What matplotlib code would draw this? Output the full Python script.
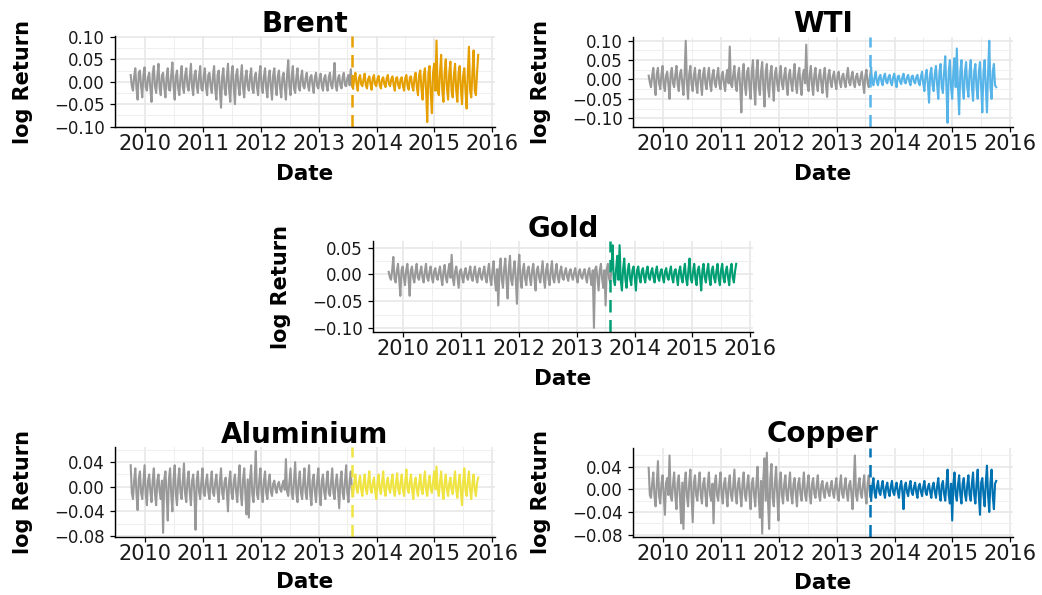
import numpy as np
import pandas as pd
import matplotlib
matplotlib.use("Agg")
import matplotlib.pyplot as plt
import matplotlib.dates as mdates
from matplotlib.ticker import FixedLocator, FuncFormatter, AutoMinorLocator

plt.rcParams['font.family'] = ['DejaVu Sans']

# ---------------- data (log returns) -------------
start_date = "2009-10-01"
end_date = "2015-10-05"
split_date = "2013-08-01"

brent = [
    0.015, -0.01, -0.02, 0.012, 0.03, -0.015, -0.04, 0.02, 0.025, -0.01, -0.035, 0.015, 0.032, -0.012,
    -0.02, 0.01, 0.02, -0.015, -0.045, 0.018, 0.035, -0.01, -0.025, 0.012, 0.04, -0.015, -0.03, 0.015,
    0.02, -0.012, -0.035, 0.01, 0.03, -0.018, -0.02, 0.015, 0.043, -0.01, -0.04, 0.012, 0.025, -0.015,
    -0.03, 0.01, 0.035, -0.012, -0.025, 0.015, 0.03, -0.01,
    -0.02, 0.01, 0.04, -0.012, -0.03, 0.015, 0.025, -0.01, -0.025, 0.012, 0.035, -0.015, -0.02, 0.01,
    0.03, -0.012, -0.03, 0.015, 0.02, -0.01, -0.025, 0.012, 0.035, -0.018, -0.04, 0.015, 0.025, -0.02,
    -0.058, 0.012, 0.03, -0.015, -0.03, 0.01, 0.04, -0.018, -0.045, 0.015, 0.035, -0.012, -0.05, 0.015,
    0.028, -0.01, -0.03, 0.012, 0.037, -0.015, -0.035, 0.01,
    0.025, -0.01, -0.02, 0.012, 0.03, -0.015, -0.025, 0.01, 0.02, -0.012, -0.03, 0.015, 0.035, -0.01,
    -0.025, 0.012, 0.03, -0.015, -0.035, 0.01, 0.025, -0.012, -0.04, 0.015, 0.03, -0.01, -0.03, 0.012,
    0.025, -0.015, -0.035, 0.01, 0.02, -0.012, -0.04, 0.015, 0.048, -0.01, -0.03, 0.012, 0.035, -0.015,
    -0.025, 0.01, 0.03, -0.012, -0.02, 0.01, 0.025, -0.01,
    -0.015, 0.008, 0.02, -0.008, -0.02, 0.01, 0.015, -0.008, -0.025, 0.01, 0.02, -0.01, -0.015, 0.008,
    0.018, -0.01, -0.02, 0.008, 0.015, -0.008, -0.02, 0.01, 0.02, -0.008, -0.015, 0.01, 0.042, -0.01,
    -0.02, 0.008, 0.015, -0.008, -0.015, 0.01, 0.02, -0.008, -0.01, 0.008, 0.015, -0.008,
    0.028, -0.008, -0.015, 0.008, 0.02, -0.006, -0.02, 0.008, 0.015, -0.006, -0.01, 0.006, 0.018, -0.008,
    -0.015, 0.006, 0.012, -0.006, -0.018, 0.008, 0.015, -0.006, -0.01, 0.006, 0.013, -0.008, -0.015, 0.006,
    0.01, -0.006, -0.012, 0.008, 0.015, -0.006, -0.01, 0.006, 0.012, -0.008, -0.02, 0.008, 0.01, -0.008,
    -0.015, 0.006, 0.01, -0.01, -0.02, 0.008, 0.015, -0.01, -0.018, 0.01, 0.012, -0.01, -0.02, 0.01,
    0.02, -0.012, -0.03, 0.015, 0.025, -0.015, -0.04, 0.015, 0.03, -0.02,
    -0.09, 0.02, 0.035, -0.025, -0.07, 0.02, 0.04, -0.02, 0.092, -0.02,
    -0.03, 0.02, 0.06, -0.02, -0.045, 0.02, 0.05, -0.015, -0.04, 0.02, 0.045, -0.02, -0.035, 0.015,
    0.04, -0.02, -0.045, 0.02, 0.035, -0.015, -0.05, 0.015, 0.03, -0.02, -0.06, 0.02, 0.078, -0.02,
    -0.035, 0.02, 0.07, -0.02, -0.03, 0.02, 0.06,
]

wti = [
    0.01, -0.008, -0.02, 0.01, 0.03, -0.012, -0.04, 0.015, 0.03, -0.01, -0.025, 0.012, 0.035, -0.015,
    -0.03, 0.01, 0.02, -0.012, -0.05, 0.015, 0.03, -0.01, -0.02, 0.012, 0.035, -0.012, -0.03, 0.015,
    0.025, -0.01, -0.04, 0.012, 0.10, -0.01, -0.05, 0.015, 0.035, -0.012, -0.03, 0.01, 0.03, -0.015,
    -0.035, 0.012, 0.025, -0.01, -0.04, 0.015, 0.03, -0.012,
    -0.025, 0.01, 0.03, -0.012, -0.03, 0.012, 0.025, -0.01, -0.02, 0.01, 0.03, -0.012, -0.025, 0.01,
    0.02, -0.012, -0.03, 0.01, 0.025, -0.01, 0.085, -0.012, -0.02, 0.012, 0.035, -0.015, -0.03, 0.012,
    0.03, -0.02, -0.085, 0.015, 0.04, -0.015, -0.04, 0.02, 0.03, -0.02, -0.05, 0.02, 0.05, -0.02,
    -0.065, 0.02, 0.05, -0.02, -0.04, 0.02, 0.045, -0.02,
    -0.07, 0.02, 0.04, -0.02, -0.045, 0.015, 0.035, -0.015, -0.055, 0.015, 0.03, -0.012, -0.03, 0.012,
    0.035, -0.012, -0.025, 0.01, 0.03, -0.015, -0.04, 0.012, 0.025, -0.01, -0.03, 0.012, 0.04, -0.015,
    -0.035, 0.012, 0.03, -0.015, -0.04, 0.012, 0.025, -0.01, 0.09, -0.012, -0.03, 0.012, 0.035, -0.015,
    -0.04, 0.012, 0.03, -0.012, -0.03, 0.01, 0.025, -0.01,
    -0.035, 0.01, 0.03, -0.012, -0.045, 0.01, 0.025, -0.008, -0.02, 0.008, 0.02, -0.008, -0.025, 0.01,
    0.02, -0.008, -0.02, 0.008, 0.015, -0.008, -0.02, 0.01, 0.03, -0.008, -0.015, 0.008, 0.02, -0.01,
    -0.02, 0.008, 0.015, -0.008, -0.015, 0.008, 0.02, -0.01, -0.035, 0.01, 0.025, -0.01,
    -0.02, 0.008, 0.03, -0.008, -0.015, 0.006, 0.02, -0.008, -0.015, 0.006, 0.012, -0.006, -0.015, 0.008,
    0.015, -0.006, -0.01, 0.006, 0.012, -0.008, -0.015, 0.006, 0.015, -0.006, -0.02, 0.008, 0.01, -0.006,
    -0.012, 0.006, 0.015, -0.008, -0.01, 0.006, 0.012, -0.006, -0.015, 0.008, 0.01, -0.006, -0.01, 0.006,
    0.012, -0.008, -0.015, 0.008, 0.02, -0.01,
    -0.03, 0.01, 0.025, -0.012, -0.06, 0.015, 0.03, -0.015, -0.03, 0.015, 0.035, -0.015, -0.05, 0.02,
    0.04, -0.02, -0.035, 0.02, 0.06, -0.02, -0.112, 0.02, 0.05, -0.02, -0.05, 0.02, 0.055, -0.02,
    0.08, -0.02, -0.09, 0.02, 0.05, -0.02, -0.05, 0.02, 0.045, -0.02, -0.045, 0.02, 0.05, -0.02,
    -0.055, 0.02, 0.04, -0.02, -0.05, 0.02, 0.045, -0.02, -0.085, 0.02, 0.05, -0.02, -0.085, 0.02,
    0.10, -0.02, -0.05, 0.02, 0.04, -0.015, -0.02,
]

gold = [
    0.005, -0.005, -0.01, 0.008, 0.033, -0.008, -0.015, 0.006, 0.02, -0.008, -0.04, 0.008, 0.015, -0.006,
    -0.02, 0.008, 0.02, -0.006, -0.04, 0.008, 0.015, -0.006, -0.015, 0.006, 0.02, -0.006, -0.01, 0.005,
    0.015, -0.006, -0.015, 0.006, 0.02, -0.006, -0.012, 0.005, 0.015, -0.006, -0.015, 0.006, 0.012, -0.005,
    -0.01, 0.005, 0.015, -0.006, -0.02, 0.006, 0.018, -0.006,
    -0.015, 0.006, 0.02, -0.006, 0.037, -0.008, -0.02, 0.006, 0.015, -0.006, -0.025, 0.006, 0.01, -0.005,
    -0.015, 0.005, 0.012, -0.005, -0.01, 0.005, 0.015, -0.006, -0.012, 0.005, 0.015, -0.006, -0.015, 0.005,
    0.012, -0.005, -0.01, 0.005, 0.015, -0.006, -0.015, 0.006, 0.02, -0.008, -0.02, 0.008, 0.025, -0.01,
    -0.03, 0.01, -0.058, 0.01, 0.03, -0.01, -0.025, 0.01,
    0.03, -0.01, -0.045, 0.01, 0.035, -0.01, -0.02, 0.008, 0.025, -0.01, -0.055, 0.01, 0.037, -0.01,
    -0.025, 0.008, 0.02, -0.008, -0.02, 0.008, 0.015, -0.006, -0.02, 0.008, 0.02, -0.008, -0.03, 0.008,
    0.015, -0.006, -0.015, 0.006, 0.025, -0.008, -0.025, 0.008, 0.02, -0.008, -0.02, 0.008, 0.025, -0.008,
    -0.015, 0.006, 0.02, -0.006, -0.015, 0.006, 0.015, -0.006,
    -0.01, 0.005, 0.012, -0.005, -0.012, 0.005, 0.01, -0.004, -0.01, 0.004, 0.012, -0.005, -0.015, 0.005,
    0.01, -0.004, -0.008, 0.004, 0.01, -0.005, -0.015, 0.005, 0.012, -0.006, -0.02, 0.008, -0.10, 0.01,
    0.015, -0.008, -0.03, 0.008, 0.02, -0.008, -0.025, 0.008, -0.058, 0.01, 0.02, -0.008,
    -0.015, 0.01, 0.055, -0.01, -0.02, 0.01, 0.035, -0.01, 0.055, -0.012, -0.03, 0.01, 0.03, -0.01,
    -0.025, 0.008, 0.02, -0.008, -0.02, 0.008, 0.015, -0.006, -0.03, 0.008, 0.015, -0.006, -0.015, 0.006,
    0.012, -0.005, -0.015, 0.006, 0.015, -0.006, -0.01, 0.005, 0.012, -0.005, -0.015, 0.006, 0.015, -0.006,
    -0.012, 0.005, 0.01, -0.005, -0.015, 0.006, 0.012, -0.005, -0.01, 0.005, 0.015, -0.006, -0.015, 0.006,
    0.01, -0.005, -0.02, 0.006, 0.015, -0.006, -0.015, 0.006, 0.02, -0.008, -0.02, 0.008, 0.03, -0.008,
    -0.015, 0.006, 0.02, -0.008, -0.02, 0.008, 0.015, -0.006, -0.03, 0.008, 0.02, -0.006, -0.015, 0.006,
    0.02, -0.008, -0.02, 0.008, 0.015, -0.006, -0.015, 0.006, 0.02, -0.008, -0.02, 0.008, 0.02, -0.006,
    -0.015, 0.006, 0.015, -0.006, -0.02, 0.008, 0.02, -0.006, -0.015, 0.006, 0.02,
]

aluminium = [
    0.035, -0.01, -0.02, 0.01, 0.03, -0.012, -0.038, 0.012, 0.025, -0.01, -0.02, 0.008, 0.035, -0.012,
    -0.03, 0.01, 0.02, -0.008, -0.025, 0.01, 0.03, -0.012, -0.03, 0.01, 0.02, -0.008, -0.02, 0.01,
    -0.075, 0.012, 0.025, -0.012, -0.055, 0.012, 0.03, -0.012, -0.04, 0.012, 0.035, -0.012, -0.03, 0.01,
    0.03, -0.01, -0.02, 0.01, 0.038, -0.012, -0.025, 0.01,
    0.025, -0.01, -0.03, 0.01, 0.02, -0.01, -0.07, 0.01, 0.025, -0.008, -0.02, 0.008, 0.03, -0.01,
    -0.015, 0.008, 0.02, -0.008, -0.02, 0.008, 0.025, -0.01, -0.015, 0.008, 0.02, -0.008, -0.025, 0.01,
    0.03, -0.01, -0.02, 0.008, 0.015, -0.008, -0.04, 0.01, 0.025, -0.01, -0.02, 0.008, 0.02, -0.008,
    -0.025, 0.01, 0.035, -0.012, -0.03, 0.012, 0.03, -0.012,
    -0.045, 0.012, -0.05, 0.012, 0.035, -0.012, -0.025, 0.01, 0.058, -0.012, -0.02, 0.01, 0.03, -0.01,
    -0.025, 0.01, 0.025, -0.01, -0.02, 0.008, 0.02, -0.008, -0.015, 0.005, 0.01, -0.004, -0.01, 0.004,
    0.008, -0.004, -0.008, 0.004, 0.01, -0.005, 0.045, -0.008, -0.015, 0.008, 0.03, -0.01, -0.02, 0.01,
    0.04, -0.01, -0.025, 0.01, 0.025, -0.01, -0.02, 0.008,
    0.03, -0.01, -0.02, 0.01, 0.035, -0.012, -0.03, 0.01, 0.02, -0.008, -0.025, 0.01, 0.03, -0.01,
    -0.03, 0.01, 0.02, -0.008, -0.02, 0.008, 0.025, -0.01, -0.015, 0.008, 0.03, -0.01, -0.02, 0.008,
    0.02, -0.008, -0.035, 0.01, 0.025, -0.01, -0.02, 0.01, 0.035, -0.01, -0.025, 0.01,
    0.025, -0.005, -0.015, 0.008, 0.02, -0.004, -0.01, 0.008, 0.018, -0.005, -0.015, 0.006, 0.02, -0.004,
    -0.012, 0.008, 0.025, -0.004, -0.01, 0.006, 0.015, -0.006, -0.02, 0.006, 0.02, -0.004, -0.012, 0.008,
    0.025, -0.005, -0.015, 0.006, 0.015, -0.004, -0.01, 0.008, 0.02, -0.005, -0.015, 0.006, 0.022, -0.004,
    -0.012, 0.008, 0.02, -0.005, -0.015, 0.008, 0.028, -0.004, -0.01, 0.008, 0.02, -0.006, -0.02, 0.006,
    0.015, -0.005, -0.015, 0.006, 0.02, -0.004, -0.012, 0.008, 0.025, -0.005, -0.015, 0.006, 0.018, -0.004,
    -0.01, 0.008, 0.025, -0.004, 0.033, -0.005, -0.015, 0.008, 0.025, -0.005, -0.02, 0.006, 0.02, -0.005,
    -0.015, 0.006, 0.015, -0.004, -0.012, 0.008, 0.025, -0.005, -0.018, 0.006, 0.02, -0.008, -0.03, 0.008,
    0.03, -0.006, -0.015, 0.008, 0.025, -0.005, -0.02, 0.006, 0.02, -0.005, -0.015, 0.006, 0.015,
]

copper = [
    0.038, -0.01, -0.015, 0.01, 0.03, -0.012, -0.03, 0.012, 0.05, -0.012, -0.025, 0.01, 0.025, -0.01,
    -0.045, 0.012, 0.02, -0.01, 0.06, -0.012, -0.02, 0.01, 0.03, -0.012, -0.035, 0.012, 0.025, -0.012,
    -0.06, 0.012, -0.07, 0.012, 0.03, -0.012, -0.03, 0.012, 0.035, -0.012, -0.058, 0.012, 0.025, -0.01,
    -0.02, 0.01, 0.03, -0.01, -0.025, 0.01, 0.02, -0.01,
    -0.03, 0.01, 0.03, -0.01, -0.02, 0.01, -0.06, 0.01, 0.025, -0.01, -0.02, 0.008, 0.03, -0.01,
    -0.025, 0.01, 0.02, -0.008, -0.03, 0.01, 0.025, -0.01, -0.02, 0.008, 0.035, -0.01, -0.025, 0.01,
    0.02, -0.008, -0.03, 0.01, 0.03, -0.01, -0.02, 0.008, 0.025, -0.01, -0.035, 0.01, 0.02, -0.01,
    -0.03, 0.012, 0.04, -0.015, -0.05, 0.015, -0.078, 0.02, 0.055, -0.02,
    0.065, -0.02, -0.07, 0.02, 0.045, -0.015, -0.03, 0.012, 0.04, -0.012, -0.055, 0.012, 0.03, -0.01,
    -0.025, 0.01, 0.025, -0.01, -0.02, 0.008, 0.03, -0.01, -0.025, 0.01, 0.02, -0.008, -0.03, 0.01,
    0.02, -0.008, -0.02, 0.008, 0.03, -0.01, -0.02, 0.008, 0.025, -0.01, -0.025, 0.01, 0.02, -0.008,
    -0.015, 0.008, 0.025, -0.01, -0.02, 0.008,
    0.015, -0.006, -0.015, 0.006, 0.012, -0.005, -0.012, 0.005, 0.015, -0.006, -0.015, 0.006, 0.02, -0.008,
    -0.02, 0.008, 0.025, -0.008, -0.015, 0.006, 0.02, -0.008, -0.02, 0.008, 0.015, -0.008, -0.035, 0.01,
    0.06, -0.01, -0.02, 0.008, 0.02, -0.008, -0.015, 0.008, 0.025, -0.01, -0.025, 0.01,
    0.025, -0.006, -0.02, 0.006, 0.02, -0.006, -0.015, 0.005, 0.015, -0.005, -0.01, 0.005, 0.015, -0.005,
    -0.015, 0.005, 0.012, -0.005, -0.012, 0.005, 0.015, -0.005, -0.01, 0.004, 0.012, -0.005, -0.015, 0.005,
    0.015, -0.005, -0.035, 0.006, 0.012, -0.005, -0.012, 0.005, 0.015, -0.005, -0.01, 0.004, 0.012, -0.005,
    -0.015, 0.005, 0.01, -0.004, -0.012, 0.005, 0.015, -0.005, -0.01, 0.004, 0.01, -0.005, -0.015, 0.005,
    0.012, -0.005, -0.015, 0.006, 0.02, -0.008, -0.02, 0.008, 0.015, -0.008, -0.02, 0.008, 0.035, -0.01,
    -0.025, 0.01, -0.055, 0.01, 0.03, -0.01, -0.02, 0.008, 0.025, -0.01, -0.025, 0.01, 0.02, -0.008,
    -0.02, 0.008, 0.025, -0.01, -0.02, 0.01, 0.03, -0.01, -0.025, 0.01, 0.035, -0.012, -0.045, 0.012,
    0.02, -0.01, -0.03, 0.012, 0.042, -0.012, -0.04, 0.012, 0.035, -0.012, -0.035, 0.01, 0.015,
]

titles = ["Brent", "WTI", "Gold", "Aluminium", "Copper"]
series = [brent, wti, gold, aluminium, copper]
colors = ["#E69F00", "#56B4E9", "#009E73", "#F0E442", "#0072B2"]
ylims = [(-0.101, 0.102), (-0.1226, 0.1096), (-0.1078, 0.0628), (-0.0817, 0.0647), (-0.0842, 0.0732)]
yticks = [[-0.10, -0.05, 0.0, 0.05, 0.10], [-0.10, -0.05, 0.0, 0.05, 0.10],
          [-0.10, -0.05, 0.0, 0.05], [-0.08, -0.04, 0.0, 0.04], [-0.08, -0.04, 0.0, 0.04]]
gray = "#999999"

# ---------------- layout (pixel boxes: left, top, right, bottom) ----------------
W, H = 1042, 595
boxes = [(115, 36, 495, 127), (633, 37, 1013, 127), (373, 241, 753, 332),
         (115, 447, 495, 537), (633, 448, 1013, 537)]
title_base = [32, 32, 237, 443, 442]
date_base = [180, 180, 385, 588, 589]

fig = plt.figure(figsize=(W / 100, H / 100), dpi=100)
xlo = pd.Timestamp("2009-06-24")
xhi = pd.Timestamp("2016-01-19")
cut = pd.Timestamp(split_date)


def fmt(v, pos):
    s = f"{v:.2f}"
    if s in ("-0.00",):
        s = "0.00"
    return s.replace("-", "\u2212")


for name, vals, col, yl, yt, box, tb, db in zip(titles, series, colors, ylims, yticks,
                                               boxes, title_base, date_base):
    l, t, r, b = box
    ax = fig.add_axes([l / W, 1 - b / H, (r - l) / W, (b - t) / H])
    dates = pd.date_range(start_date, end_date, periods=len(vals))
    v = np.array(vals)
    k = int(np.searchsorted(dates.values, cut.to_datetime64()))
    ax.plot(dates[:k + 1], v[:k + 1], color=gray, lw=1.5)
    ax.plot(dates[k:], v[k:], color=col, lw=1.5)
    ax.axvline(cut, color=col, lw=1.8, ls=(0, (5, 3)))

    ax.set_xlim(xlo, xhi)
    ax.set_ylim(*yl)
    ax.xaxis.set_major_locator(mdates.YearLocator())
    ax.xaxis.set_major_formatter(mdates.DateFormatter("%Y"))
    ax.xaxis.set_minor_locator(mdates.MonthLocator(bymonth=7))
    ax.yaxis.set_major_locator(FixedLocator(yt))
    ax.yaxis.set_major_formatter(FuncFormatter(fmt))
    ax.yaxis.set_minor_locator(AutoMinorLocator(2))

    ax.set_axisbelow(True)
    ax.grid(which="major", color="#E6E6E6", lw=1.1)
    ax.grid(which="minor", color="#EFEFEF", lw=0.7)
    for s in ("top", "right"):
        ax.spines[s].set_visible(False)
    for s in ("left", "bottom"):
        ax.spines[s].set_color("black")
        ax.spines[s].set_linewidth(1.0)
    ax.tick_params(which="major", length=3.5, width=0.9, color="black",
                   labelcolor="#1a1a1a")
    ax.tick_params(axis="x", which="major", labelsize=15, pad=1.5)
    ax.tick_params(axis="y", which="major", labelsize=12, pad=4)
    ax.tick_params(which="minor", length=0)

    cx = (l + r) / 2
    fig.text(cx / W, 1 - tb / H, name, ha="center", va="baseline",
             fontsize=20, fontweight="bold")
    fig.text(cx / W, 1 - db / H, "Date", ha="center", va="baseline",
             fontsize=15.5, fontweight="bold")
    fig.text((l - 92) / W, 1 - ((t + b) / 2) / H, "log Return", ha="center",
             va="center", rotation=90, fontsize=15, fontweight="bold")

fig.savefig("out.png", dpi=100)
